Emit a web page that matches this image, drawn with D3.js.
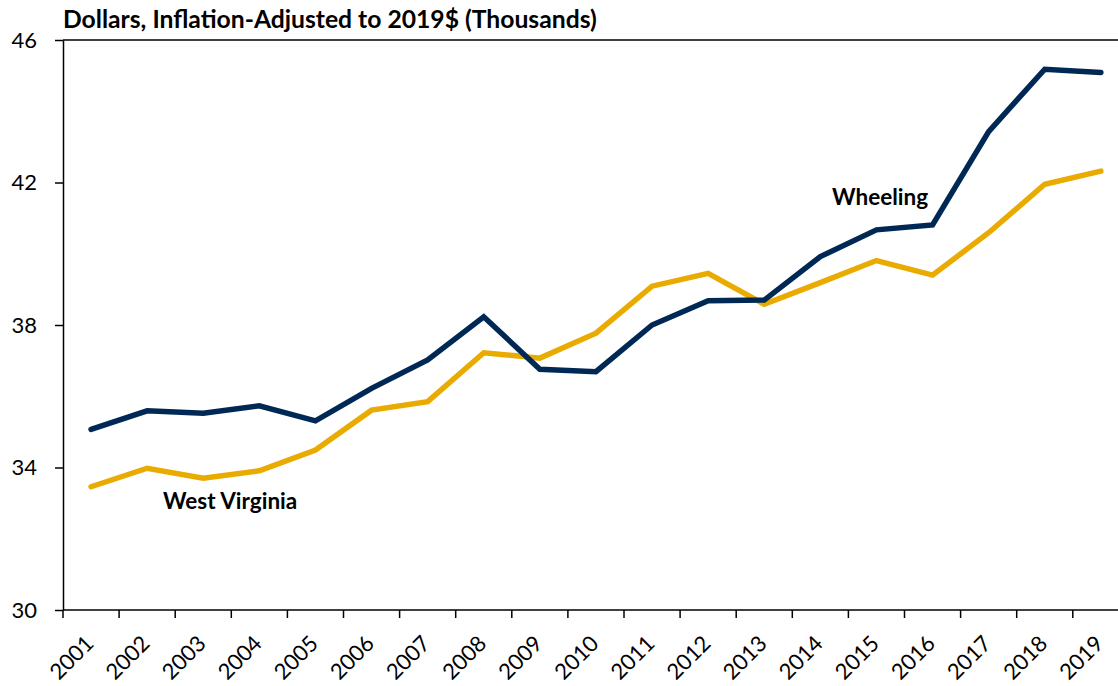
<!DOCTYPE html>
<html>
<head>
<meta charset="utf-8">
<script src="https://cdn.jsdelivr.net/npm/d3@7"></script>
<style>
  body { margin: 0; background: #fff; }
  text { font-family: Lato, "Open Sans", sans-serif; fill: #000; }
</style>
</head>
<body>
<script>
var years = ["2001","2002","2003","2004","2005","2006","2007","2008","2009","2010",
             "2011","2012","2013","2014","2015","2016","2017","2018","2019"];
var wheeling = [35.07, 35.59, 35.52, 35.73, 35.31, 36.22, 37.02, 38.23, 36.76, 36.69,
                38.00, 38.68, 38.70, 39.92, 40.67, 40.81, 43.43, 45.18, 45.09];
var westVirginia = [33.46, 33.98, 33.70, 33.91, 34.49, 35.61, 35.85, 37.22, 37.07, 37.77,
                    39.09, 39.45, 38.58, 39.19, 39.81, 39.40, 40.59, 41.95, 42.32];
var yTicks = [30, 34, 38, 42, 46];

var width = 1118, height = 686;
var plotLeft = 63, plotTop = 40, plotBottom = 610;

var svg = d3.select("body").append("svg")
    .attr("width", width)
    .attr("height", height);

var x = d3.scaleBand()
    .domain(years)
    .range([plotLeft, plotLeft + 19 * 56.1]);

var y = d3.scaleLinear()
    .domain([30, 46])
    .range([plotBottom, plotTop]);

function cx(d) { return x(d) + x.bandwidth() / 2; }

// top frame line at 46
svg.append("line")
    .attr("x1", plotLeft).attr("x2", width)
    .attr("y1", y(46)).attr("y2", y(46))
    .attr("stroke", "#000").attr("stroke-width", 1.5);

// y axis
var yAxis = svg.append("g")
    .attr("transform", "translate(" + plotLeft + ",0)")
    .call(d3.axisLeft(y).tickValues(yTicks).tickSize(8).tickSizeOuter(0).tickPadding(18));
yAxis.select(".domain").attr("stroke-width", 1.5);
yAxis.selectAll(".tick line").attr("stroke-width", 1.5);
yAxis.selectAll("text").style("font-size", "22px");

// x axis: labels at band centers, ticks at band edges
var xAxis = svg.append("g")
    .attr("transform", "translate(0," + plotBottom + ")")
    .call(d3.axisBottom(x).tickSize(0).tickSizeOuter(0));
xAxis.select(".domain")
    .attr("d", "M" + plotLeft + ",0H" + width)
    .attr("stroke-width", 1.5);
xAxis.selectAll(".tick text")
    .style("font-size", "22px")
    .attr("text-anchor", "end")
    .attr("y", 0)
    .attr("dy", null)
    .attr("transform", "translate(4,35) rotate(-45)");
xAxis.selectAll(".edge")
    .data(years)
    .enter().append("line")
    .attr("x1", function(d) { return x(d); })
    .attr("x2", function(d) { return x(d); })
    .attr("y1", 0).attr("y2", 8)
    .attr("stroke", "#000").attr("stroke-width", 1.5);

// title
svg.append("text")
    .attr("x", plotLeft)
    .attr("y", 28)
    .style("font-size", "24.7px")
    .style("font-weight", "bold")
    .text("Dollars, Inflation-Adjusted to 2019$ (Thousands)");

var line = d3.line()
    .x(function(d, i) { return cx(years[i]); })
    .y(function(d) { return y(d); });

svg.append("path")
    .datum(westVirginia)
    .attr("fill", "none")
    .attr("stroke", "#EAAB00")
    .attr("stroke-width", 5.5)
    .attr("stroke-linecap", "round")
    .attr("d", line);

svg.append("path")
    .datum(wheeling)
    .attr("fill", "none")
    .attr("stroke", "#002855")
    .attr("stroke-width", 5.5)
    .attr("stroke-linecap", "round")
    .attr("d", line);

svg.append("text")
    .attr("x", 832).attr("y", 205)
    .style("font-size", "22.5px").style("font-weight", "bold")
    .text("Wheeling");

svg.append("text")
    .attr("x", 163).attr("y", 509)
    .style("font-size", "22.5px").style("font-weight", "bold")
    .text("West Virginia");
</script>
</body>
</html>
